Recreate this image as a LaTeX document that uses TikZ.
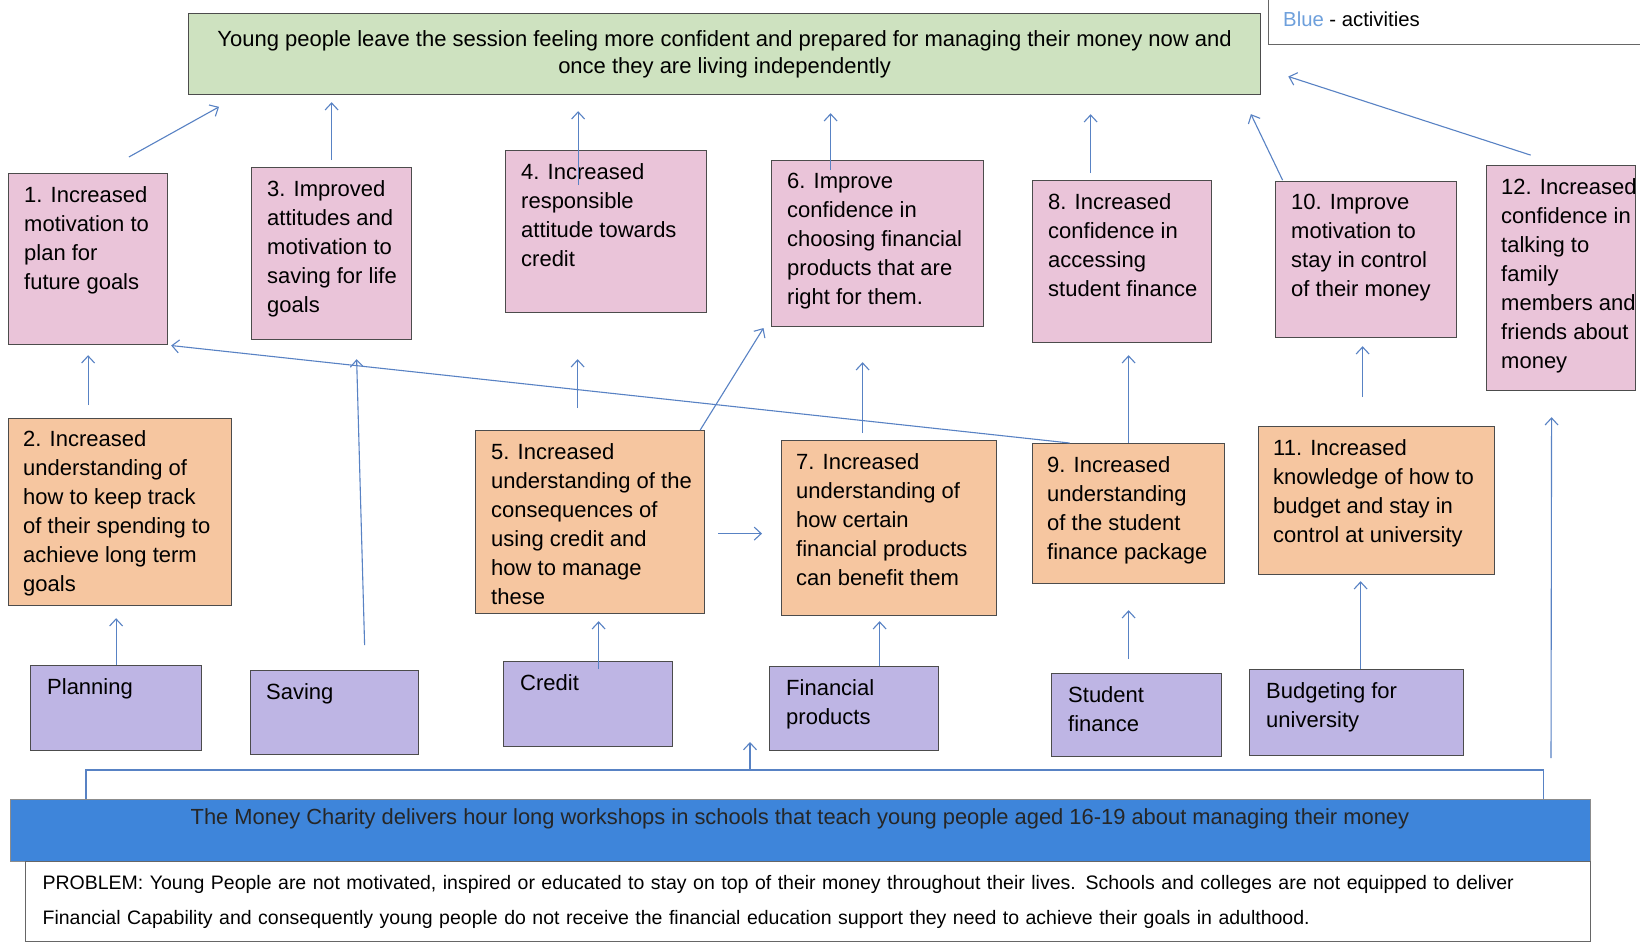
\documentclass[tikz,border=0pt]{standalone}
\usepackage{fontspec}
\setmainfont{Liberation Sans}
\usepackage{tikz}
\usetikzlibrary{arrows.meta}

\definecolor{goalgreen}{RGB}{206,226,192}
\definecolor{outpink}{RGB}{234,196,217}
\definecolor{learnorange}{RGB}{246,198,160}
\definecolor{actpurple}{RGB}{190,181,228}
\definecolor{bandblue}{RGB}{62,133,218}
\definecolor{linkblue}{RGB}{88,130,196}
\definecolor{legendblue}{RGB}{110,160,220}

\tikzset{
  box/.style={draw=black!70, line width=1.2pt, anchor=north west, inner sep=0pt},
  outcome/.style={box, fill=outpink},
  learning/.style={box, fill=learnorange},
  activity/.style={box, fill=actpurple},
  boxtext/.style={anchor=north west, inner sep=0pt, align=left, font=\fontsize{22}{29}\selectfont},
  link/.style={draw=linkblue, line width=1.1pt, -{Straight Barb[length=7pt, width=13pt]}},
}

\begin{document}
\begin{tikzpicture}[x=1pt, y=-1pt]
    \fill[white] (0,0) rectangle (1640,946);
    \useasboundingbox (0,0) rectangle (1640,946);

    % legend
    \node[draw=black!60, line width=1pt, anchor=north west, minimum width=380pt, minimum height=50pt, inner sep=0pt] (legend) at (1268,-6) {};
    \node[anchor=west, inner sep=0pt, font=\fontsize{20.3}{22}\selectfont] (legendtxt) at (1283,19) {\textcolor{legendblue}{Blue} - activities};

    % goal
    \node[box, fill=goalgreen, minimum width=1072pt, minimum height=81pt, align=center, font=\fontsize{22}{27}\selectfont] (goal) at (188,13)
        {Young people leave the session feeling more confident and prepared for managing their money now and\\once they are living independently};

    % outcomes (pink)
    \node[outcome, minimum width=159pt, minimum height=171pt] (o1) at (8,173) {};
    \node[boxtext] (o1t) at ([xshift=16pt,yshift=-13pt]o1.north west) {1. Increased\\motivation to\\plan for\\future goals};
    \node[outcome, minimum width=160pt, minimum height=172pt] (o3) at (251,167) {};
    \node[boxtext] (o3t) at ([xshift=16pt,yshift=-13pt]o3.north west) {3. Improved\\attitudes and\\motivation to\\saving for life\\goals};
    \node[outcome, minimum width=201pt, minimum height=162pt] (o4) at (505,150) {};
    \node[boxtext] (o4t) at ([xshift=16pt,yshift=-13pt]o4.north west) {4. Increased\\responsible\\attitude towards\\credit};
    \node[outcome, minimum width=212pt, minimum height=166pt] (o6) at (771,160) {};
    \node[boxtext] (o6t) at ([xshift=16pt,yshift=-13pt]o6.north west) {6. Improve\\confidence in\\choosing financial\\products that are\\right for them.};
    \node[outcome, minimum width=179pt, minimum height=162pt] (o8) at (1032,180) {};
    \node[boxtext] (o8t) at ([xshift=16pt,yshift=-13pt]o8.north west) {8. Increased\\confidence in\\accessing\\student finance};
    \node[outcome, minimum width=181pt, minimum height=156pt] (o10) at (1275,181) {};
    \node[boxtext] (o10t) at ([xshift=16pt,yshift=-13pt]o10.north west) {10. Improve\\motivation to\\stay in control\\of their money};
    \node[outcome, minimum width=149pt, minimum height=225pt] (o12) at (1486,165) {};
    \node[boxtext] (o12t) at ([xshift=15pt,yshift=-13pt]o12.north west) {12. Increased\\confidence in\\talking to\\family\\members and\\friends about\\money};

    % learning (orange)
    \node[learning, minimum width=223pt, minimum height=187pt] (o2) at (8,418) {};
    \node[boxtext] (o2t) at ([xshift=15pt,yshift=-12pt]o2.north west) {2. Increased\\understanding of\\how to keep track\\of their spending to\\achieve long term\\goals};
    \node[learning, minimum width=229pt, minimum height=183pt] (o5) at (475,430) {};
    \node[boxtext] (o5t) at ([xshift=16pt,yshift=-13pt]o5.north west) {5. Increased\\understanding of the\\consequences of\\using credit and\\how to manage\\these};
    \node[learning, minimum width=215pt, minimum height=175pt] (o7) at (781,440) {};
    \node[boxtext] (o7t) at ([xshift=15pt,yshift=-13pt]o7.north west) {7. Increased\\understanding of\\how certain\\financial products\\can benefit them};
    \node[learning, minimum width=192pt, minimum height=140pt] (o9) at (1032,443) {};
    \node[boxtext] (o9t) at ([xshift=15pt,yshift=-13pt]o9.north west) {9. Increased\\understanding\\of the student\\finance package};
    \node[learning, minimum width=236pt, minimum height=148pt] (o11) at (1258,426) {};
    \node[boxtext] (o11t) at ([xshift=15pt,yshift=-13pt]o11.north west) {11. Increased\\knowledge of how to\\budget and stay in\\control at university};

    % activities (purple)
    \node[activity, minimum width=171pt, minimum height=85pt] (plan) at (30,665) {};
    \node[boxtext] (plant) at ([xshift=17pt,yshift=-13pt]plan.north west) {Planning};
    \node[activity, minimum width=168pt, minimum height=84pt] (save) at (250,670) {};
    \node[boxtext] (savet) at ([xshift=16pt,yshift=-13pt]save.north west) {Saving};
    \node[activity, minimum width=169pt, minimum height=85pt] (credit) at (503,661) {};
    \node[boxtext] (creditt) at ([xshift=17pt,yshift=-13pt]credit.north west) {Credit};
    \node[activity, minimum width=169pt, minimum height=84pt] (prod) at (769,666) {};
    \node[boxtext] (prodt) at ([xshift=17pt,yshift=-13pt]prod.north west) {Financial\\products};
    \node[activity, minimum width=170pt, minimum height=83pt] (stud) at (1051,673) {};
    \node[boxtext] (studt) at ([xshift=17pt,yshift=-13pt]stud.north west) {Student\\finance};
    \node[activity, minimum width=214pt, minimum height=86pt] (budg) at (1249,669) {};
    \node[boxtext] (budgt) at ([xshift=17pt,yshift=-13pt]budg.north west) {Budgeting for\\university};

    % workshop and problem
    \node[box, draw=black!45, fill=bandblue, minimum width=1580pt, minimum height=62pt] (charity) at (10,799) {};
    \node[inner sep=0pt, font=\fontsize{21.9}{24}\selectfont, text=black!85] (charityt) at (800,819)
        {The Money Charity delivers hour long workshops in schools that teach young people aged 16-19 about managing their money};
    \node[box, draw=black!60, fill=white, text width=1531pt, inner xsep=17pt, minimum height=80pt, align=left, font=\fontsize{19.5}{35}\selectfont] (problem) at (25,861)
        {PROBLEM: Young People are not motivated, inspired or educated to stay on top of their money throughout their lives. Schools and colleges are not equipped to deliver\\Financial Capability and consequently young people do not receive the financial education support they need to achieve their goals in adulthood.};

    % outcomes up to the goal
    \draw[link, shorten <=33pt, shorten >=24pt] ([xshift=12pt]o1.north) -- ([xshift=52pt]goal.south west);
    \draw[link, shorten <=7pt, shorten >=7pt] (o3.north) -- (o3.north |- goal.south);
    \draw[link, shorten <=-35pt, shorten >=16pt] ([xshift=-28pt]o4.north) -- ([xshift=-28pt]o4.north |- goal.south);
    \draw[link, shorten <=-10pt, shorten >=18pt] ([xshift=-47pt]o6.north) -- ([xshift=-47pt]o6.north |- goal.south);
    \draw[link, shorten <=7pt, shorten >=19pt] ([xshift=-31.5pt]o8.north) -- ([xshift=-31.5pt]o8.north |- goal.south);
    \draw[link, shorten <=1pt, shorten >=21pt] ([xshift=8pt]o10.north west) -- ([xshift=-19.4pt]goal.south east);
    \draw[link, shorten <=32pt, shorten >=28.5pt] (o12.north) -- ([yshift=-13.6pt]goal.east);

    % learning into outcomes
    \draw[link, shorten <=13pt, shorten >=10pt] (o1.south |- o2.north) -- (o1.south);
    \draw[link, shorten <=25pt, shorten >=19pt] ([xshift=30.7pt]save.north) -- ([xshift=24.5pt]o3.south);
    \draw[link, shorten <=22pt, shorten >=46pt] ([xshift=-12.5pt]o5.north) -- ([xshift=-12.5pt]o5.north |- o4.south);
    \draw[link, shorten >=1pt] ([xshift=-5pt]o5.north east) -- ([xshift=-7pt]o6.south west);
    \draw[link, shorten <=13pt, shorten >=19pt] ([yshift=-11.5pt]o5.east) -- ([yshift=-5.5pt]o7.west);
    \draw[link, shorten <=7pt, shorten >=35pt] ([xshift=-26.5pt]o7.north) -- ([xshift=-26.5pt]o7.north |- o6.south);
    \draw[link, shorten >=12pt] (o9.north) -- (o9.north |- o8.south);
    \draw[link, shorten >=3pt] ([xshift=-59pt]o9.north) -- (o1.south east);
    \draw[link, shorten <=29pt, shorten >=8pt] ([xshift=-14pt]o11.north) -- ([xshift=-14pt]o11.north |- o10.south);

    % activities into learning
    \draw[link, shorten >=12pt] (plan.north) -- (plan.north |- o2.south);
    \draw[link, shorten <=-8pt, shorten >=7pt] ([xshift=10.5pt]credit.north) -- ([xshift=10.5pt]credit.north |- o5.south);
    \draw[link, shorten >=5pt] ([xshift=25.5pt]prod.north) -- ([xshift=25.5pt]prod.north |- o7.south);
    \draw[link, shorten <=14pt, shorten >=26pt] (o9.south |- stud.north) -- (o9.south);
    \draw[link, shorten >=6pt] ([xshift=4pt]budg.north) -- ([xshift=4pt]budg.north |- o11.south);

    % workshop feeding the activities
    \coordinate (hub) at (750,770);
    \coordinate (hubtip) at (750,742);
    \coordinate (rightfoot) at (1551,758);
    \draw[draw=linkblue, line width=1.1pt] ([xshift=76pt]charity.north west) |- (hub) -| ([xshift=-48pt]charity.north east);
    \draw[link] (hub) -- (hubtip);
    \draw[link, shorten >=26pt] (rightfoot) -- ([xshift=-9.5pt]o12.south);
\end{tikzpicture}
\end{document}
